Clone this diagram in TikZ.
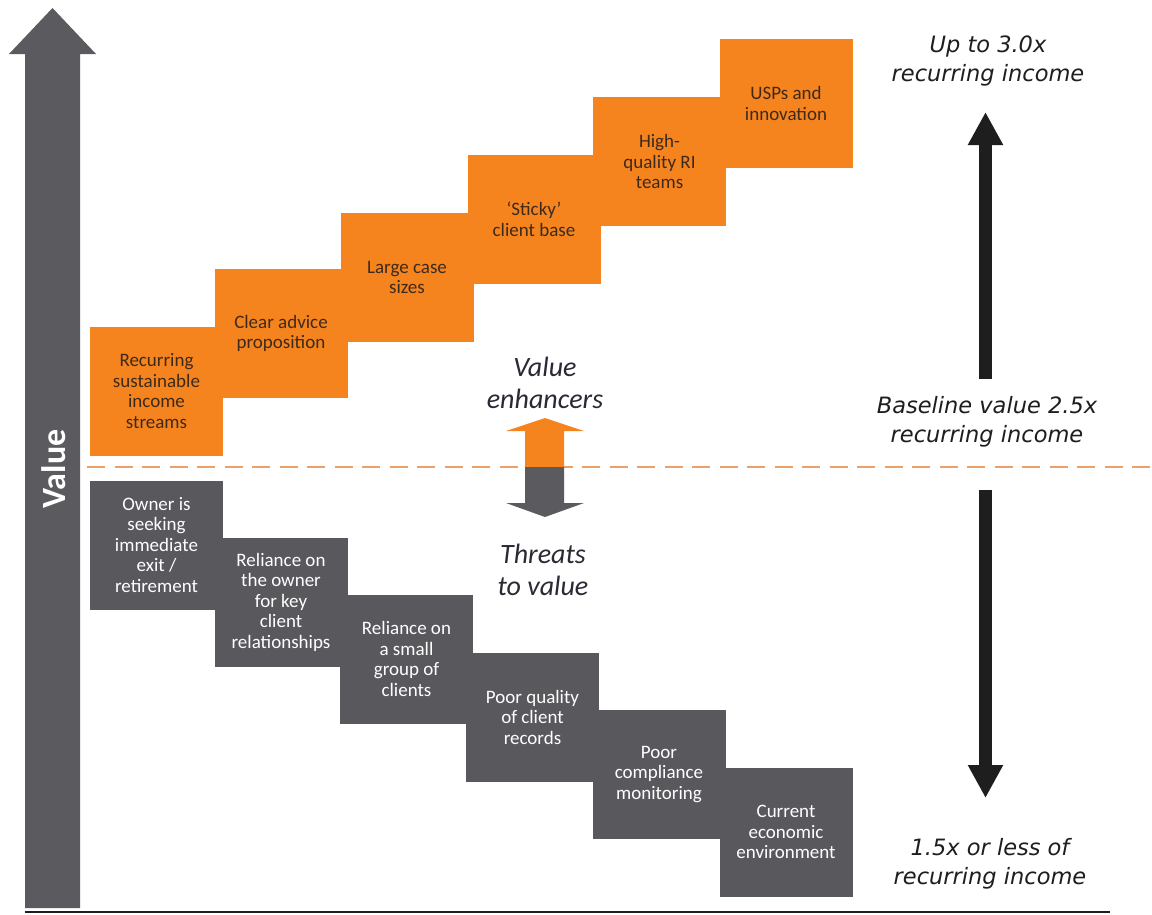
\documentclass[tikz,border=0pt]{standalone}
\usepackage{fontspec}
\setmainfont{Carlito}
\newfontfamily\labfont{DejaVu Sans}
\usetikzlibrary{arrows.meta}
\definecolor{orng}{HTML}{F5841F}
\definecolor{otext}{HTML}{3D2A1A}
\definecolor{gbx}{HTML}{59585D}
\definecolor{garrow}{HTML}{5B5A5F}
\definecolor{dlab}{HTML}{2A2A35}
\definecolor{blk}{HTML}{1E1E1E}
\definecolor{dashcol}{HTML}{EBA06A}
\tikzset{
  box/.style={minimum width=133pt, minimum height=129pt, inner sep=0pt, align=center,
    font=\fontsize{19}{20.5}\selectfont},
  obox/.style={box, fill=orng, text=otext},
  gbox/.style={box, fill=gbx, text=white},
  midlab/.style={align=center, text=dlab, font=\itshape\fontsize{28}{32}\selectfont},
  rlab/.style={align=center, text=blk, font=\labfont\itshape\fontsize{22.5}{29}\selectfont},
  bigarrow/.style={line width=13pt, draw=blk, -{Triangle[width=33pt,length=33pt]}}
}
\begin{document}
\begin{tikzpicture}[x=1pt,y=-1pt]
\useasboundingbox (0,0) rectangle (1152,914);
\fill[white] (0,0) rectangle (1152,914);

% Value axis arrow
\fill[garrow] (25,908) -- (25,54) -- (9,54) -- (52.5,8) -- (96,54) -- (80,54) -- (80,908) -- cycle;
\node[rotate=90, text=white, font=\bfseries\fontsize{34}{36}\selectfont] (vlab) at (54,469) {Value};

% bottom line
\coordinate (bl1) at (25,912);
\coordinate (bl2) at (1110,912);
\draw[line width=2pt, blk] (bl1) -- (bl2);

% dashed baseline
\coordinate (d1) at (87,467);
\coordinate (d2) at (1152,467);
\draw[dashcol, line width=2pt, dash pattern=on 18pt off 9.5pt] (d1) -- (d2);

% orange steps
\node[obox] (o1) at (156.5,391)   {\raisebox{-4pt}{\parbox{133pt}{\centering Recurring\\sustainable\\income\\streams}}};
\node[obox] (o2) at (281,333.5)   {Clear advice\\proposition};
\node[obox] (o3) at (407,277.5)   {Large case\\sizes};
\node[obox] (o4) at (534,219)     {`Sticky'\\client base};
\node[obox] (o5) at (659.5,161.5) {High-\\quality RI\\teams};
\node[obox] (o6) at (786,103.5)   {USPs and\\innovation};

% gray steps
\node[gbox] (g1) at (156.5,545) {Owner is\\seeking\\immediate\\exit /\\retirement};
\node[gbox] (g2) at (281,602)   {Reliance on\\the owner\\for key\\client\\relationships};
\node[gbox] (g3) at (406.5,659) {Reliance on\\a small\\group of\\clients};
\node[gbox] (g4) at (532.5,717) {Poor quality\\of client\\records};
\node[gbox] (g5) at (659,774.5) {Poor\\compliance\\monitoring};
\node[gbox] (g6) at (786,832)   {Current\\economic\\environment};

% central double arrow
\fill[orng] (525,467) -- (525,431) -- (506,431) -- (545,418) -- (584,431) -- (564,431) -- (564,467) -- cycle;
\fill[garrow] (525,467) -- (525,503) -- (506,503) -- (545,517) -- (584,503) -- (564,503) -- (564,467) -- cycle;
\node[midlab] (ve) at (545,383) {Value\\enhancers};
\node[midlab] (tv) at (543,570) {Threats\\to value};

% right labels
\node[rlab] (up) at (988,61) {Up to 3.0x\\recurring income};
\node[rlab] (base) at (987,422) {Baseline value 2.5x\\recurring income};
\node[rlab] (low) at (990,864) {1.5x or less of\\recurring income};

% right arrows
\coordinate (ua1) at (985.5,379);
\coordinate (ua2) at (985.5,112);
\coordinate (da1) at (985.5,490);
\coordinate (da2) at (985.5,798);
\draw[bigarrow] (ua1) -- (ua2);
\draw[bigarrow] (da1) -- (da2);
\end{tikzpicture}
\end{document}
